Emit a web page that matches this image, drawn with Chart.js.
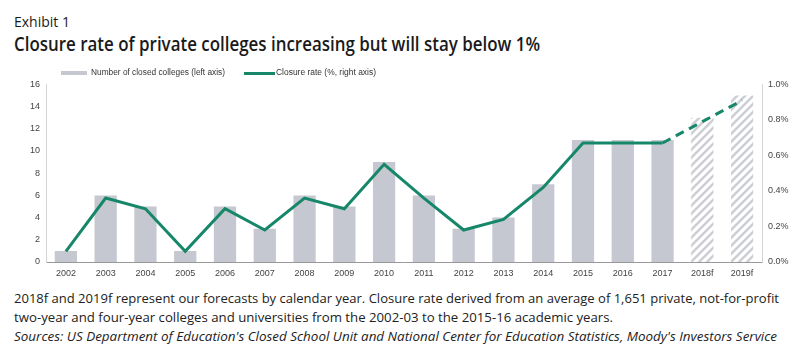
<!DOCTYPE html>
<html>
<head>
<meta charset="utf-8">
<script src="https://cdn.jsdelivr.net/npm/chart.js@4"></script>
<style>
  body { margin: 0; width: 800px; height: 362px; background: #fff; overflow: hidden; font-family: "Open Sans", sans-serif; color: #1a1a1a; }
  .txt { position: absolute; left: 14px; white-space: nowrap; transform-origin: left center; }
  #exhibit { top: 12px; font-size: 14px; }
  #title { top: 31px; font-size: 19px; font-weight: 600; }
  .foot { font-size: 13.5px; color: #222; }
  #f1 { top: 289px; }
  #f2 { top: 308px; }
  #f3 { top: 327px; font-style: italic; }
  .leg { position: absolute; top: 67px; font-family: "Liberation Sans", Arial, sans-serif; font-size: 8.5px; color: #333; white-space: nowrap; transform-origin: left center; }
  .swatch { position: absolute; }
  #wrap { position: absolute; left: 0; top: 73px; width: 800px; height: 209px; }
</style>
</head>
<body>
<div class="txt" id="exhibit">Exhibit 1</div>
<div class="txt" id="title">Closure rate of private colleges increasing but will stay below 1%</div>

<div id="wrap"><canvas id="chart"></canvas></div>

<div class="swatch" style="left:61px;top:71px;width:26px;height:4px;background:#c5c8d0"></div>
<div class="leg" id="leg1" style="left:91px">Number of closed colleges (left axis)</div>
<div class="swatch" style="left:244px;top:72px;width:31px;height:3px;background:#17876a"></div>
<div class="leg" id="leg2" style="left:276px">Closure rate (%, right axis)</div>

<div class="txt foot" id="f1">2018f and 2019f represent our forecasts by calendar year. Closure rate derived from an average of 1,651 private, not-for-profit</div>
<div class="txt foot" id="f2">two-year and four-year colleges and universities from the 2002-03 to the 2015-16 academic years.</div>
<div class="txt foot" id="f3">Sources: US Department of Education's Closed School Unit and National Center for Education Statistics, Moody's Investors Service</div>

<script>
const years = ["2002", "2003", "2004", "2005", "2006", "2007", "2008", "2009", "2010", "2011", "2012", "2013", "2014", "2015", "2016", "2017", "2018f", "2019f"]
const closedColleges = [1, 6, 5, 1, 5, 3, 6, 5, 9, 6, 3, 4, 7, 11, 11, 11, 13, 15]
const closureRate = [0.06, 0.36, 0.30, 0.06, 0.30, 0.18, 0.36, 0.30, 0.55, 0.36, 0.18, 0.24, 0.42, 0.67, 0.67, 0.67, 0.79, 0.91]
const firstForecast = 16

// stretch text blocks to the widths measured on the reference
function fit(id, target) {
  const el = document.getElementById(id)
  const w = el.getBoundingClientRect().width
  el.style.transform = "scaleX(" + (target / w) + ")"
}
fit("title", 526)
fit("f1", 765)
fit("f2", 599)
fit("f3", 763)
fit("leg1", 134)
fit("leg2", 100)

function hatch() {
  const c = document.createElement("canvas")
  c.width = c.height = 8
  const g = c.getContext("2d")
  g.strokeStyle = "#cdcfd4"
  g.lineWidth = 2.6
  g.beginPath()
  g.moveTo(-2, 10); g.lineTo(10, -2)
  g.moveTo(-2, 2); g.lineTo(2, -2)
  g.moveTo(6, 10); g.lineTo(10, 6)
  g.stroke()
  return g.createPattern(c, "repeat")
}
const stripes = hatch()
const barColors = years.map((y, i) => i < firstForecast ? "#c5c8d0" : stripes)

const tickFont = { family: "Liberation Sans, Arial, sans-serif", size: 9 }

new Chart(document.getElementById("chart"), {
  data: {
    labels: years,
    datasets: [{
      type: "line",
      label: "Closure rate (%, right axis)",
      data: closureRate,
      yAxisID: "y1",
      borderColor: "#17876a",
      borderWidth: 3,
      pointRadius: 0,
      tension: 0,
      order: 0,
      segment: {
        borderDash: ctx => ctx.p0DataIndex >= firstForecast - 1 ? [9, 6] : undefined
      }
    }, {
      type: "bar",
      label: "Number of closed colleges (left axis)",
      data: closedColleges,
      yAxisID: "y",
      backgroundColor: barColors,
      categoryPercentage: 1,
      barPercentage: 0.56,
      order: 1
    }]
  },
  options: {
    responsive: true,
    maintainAspectRatio: false,
    animation: false,
    layout: { padding: 0 },
    plugins: { legend: { display: false }, tooltip: { enabled: false } },
    scales: {
      x: {
        grid: { display: false, drawTicks: false },
        border: { color: "#999" },
        ticks: { font: tickFont, color: "#444", padding: 6, maxRotation: 0 },
        afterFit: s => { s.height = 20 }
      },
      y: {
        position: "left",
        min: 0, max: 16,
        grid: { display: false, drawTicks: false },
        border: { color: "#d4d4d4" },
        ticks: { stepSize: 2, font: tickFont, color: "#444", padding: 6 },
        afterFit: s => { s.width = 46 }
      },
      y1: {
        position: "right",
        min: 0, max: 1.0,
        grid: { display: false, drawTicks: false },
        border: { color: "#d4d4d4" },
        ticks: { stepSize: 0.2, font: tickFont, color: "#444", padding: 6, callback: v => v.toFixed(1) + "%" },
        afterFit: s => { s.width = 38 }
      }
    }
  }
})
</script>
</body>
</html>
